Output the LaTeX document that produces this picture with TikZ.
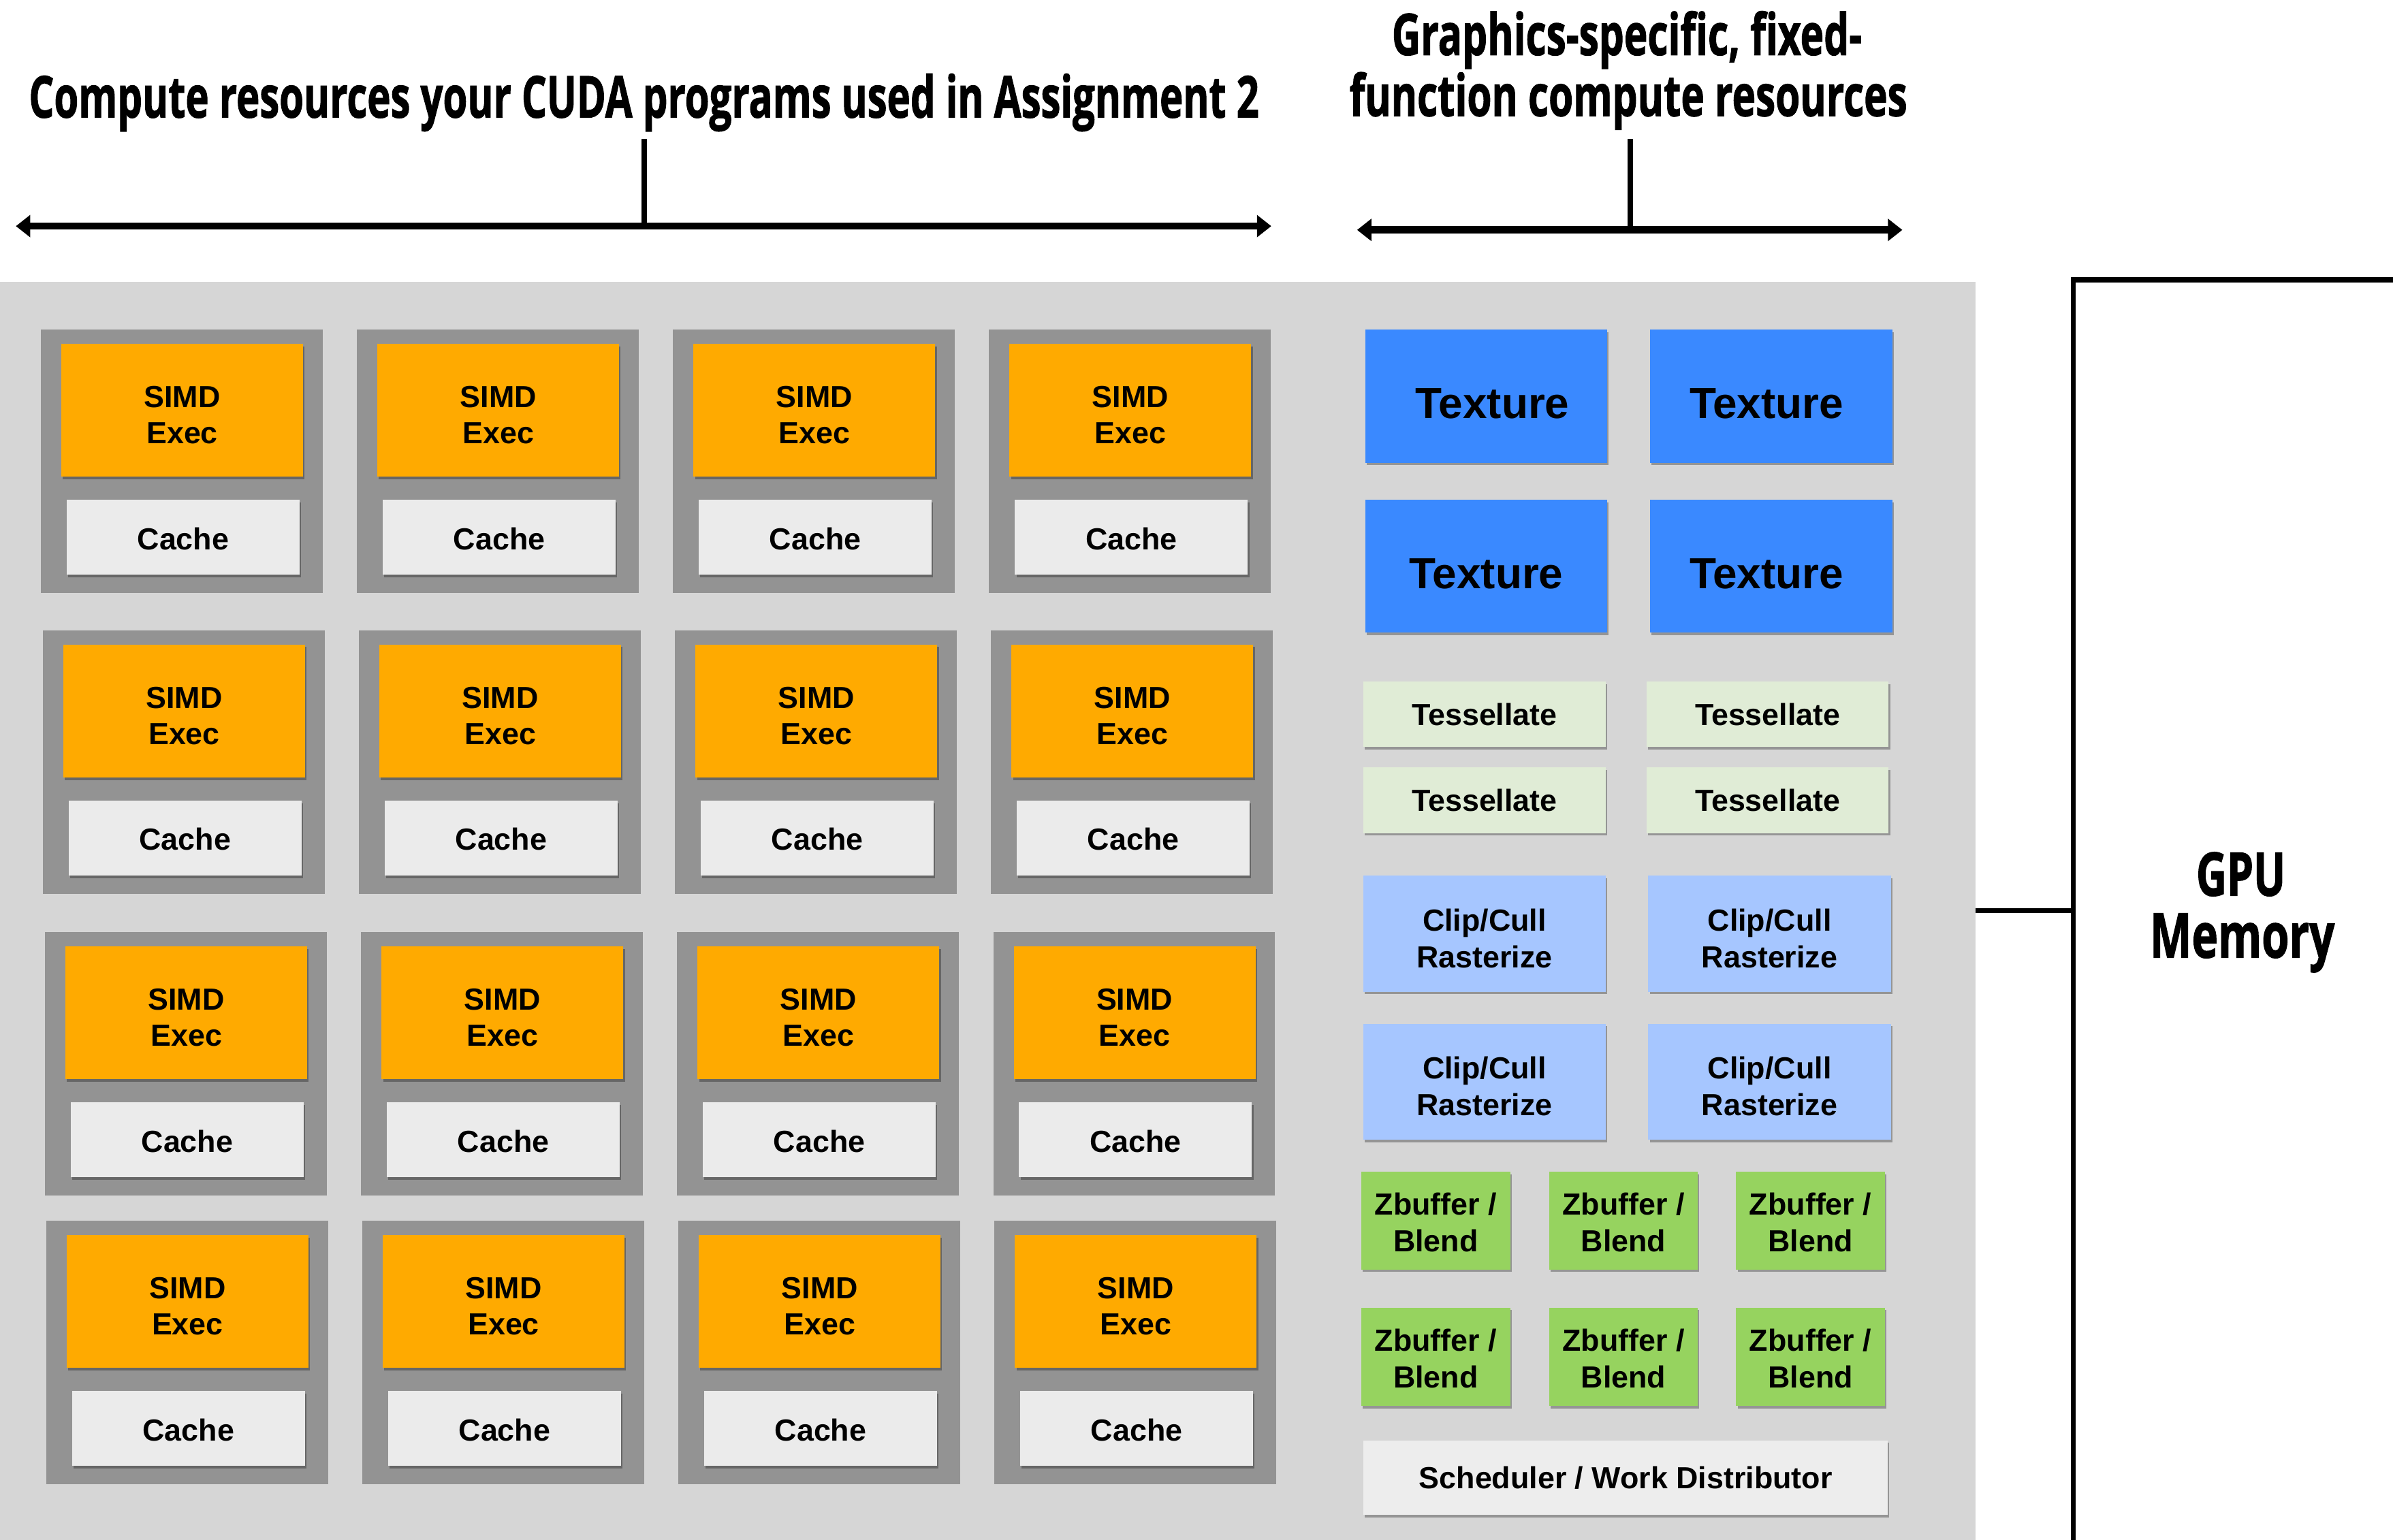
\documentclass[tikz,border=0pt]{standalone}
\usepackage{fontspec}
\usepackage{graphicx}
\setmainfont{Liberation Sans}
\newfontfamily\ttlfont{Open Sans}[BoldFeatures={FakeBold=1.6}]
\usetikzlibrary{arrows.meta,shadows}
\definecolor{panelgray}{HTML}{D6D6D6}
\definecolor{coregray}{HTML}{939393}
\definecolor{simdorange}{HTML}{FFAA00}
\definecolor{cachegray}{HTML}{EBEBEB}
\definecolor{texblue}{HTML}{3A89FF}
\definecolor{tessgreen}{HTML}{E0ECD6}
\definecolor{clipblue}{HTML}{A6C6FF}
\definecolor{zbgreen}{HTML}{96D35F}
\definecolor{schedgray}{HTML}{EDEDED}
\newcommand{\upstrut}[1]{\rule{0pt}{#1}}
\tikzset{
  blk/.style={inner sep=0pt, outer sep=0pt, draw=none, align=center,
    font=\bfseries\fontsize{20}{24}\selectfont},
  lower/.style={execute at begin node={\rule{0pt}{#1}}},
  shd/.style={drop shadow={shadow xshift=1pt, shadow yshift=-1.6pt, opacity=0.3, fill=black}},
  panelbox/.style={blk, fill=panelgray},
  corebox/.style={blk, fill=coregray},
  simdbox/.style={blk, shd, fill=simdorange},
  cachebox/.style={blk, shd, fill=cachegray, lower=16pt},
  texbox/.style={blk, shd, fill=texblue, font=\bfseries\fontsize{28.5}{34}\selectfont, lower=29.4pt},
  tessbox/.style={blk, shd, fill=tessgreen},
  clipbox/.style={blk, shd, fill=clipblue},
  zbbox/.style={blk, shd, fill=zbgreen},
  schedbox/.style={blk, shd, fill=schedgray},
  membox/.style={inner sep=0pt, outer sep=0pt, draw=black, line width=3.4pt, fill=white},
  bigtext/.style={inner sep=0pt, outer sep=0pt, anchor=base},
  spanarrow/.style={line width=4.7pt,
    {Triangle[length=9.4pt,width=14.1pt]}-{Triangle[length=9.4pt,width=14.1pt]}},
  tickline/.style={line width=3.5pt},
  busline/.style={line width=3pt}
}
\newcommand{\placebox}[7]{%
  \pgfmathsetmacro{\pbw}{(#4)-(#2)}%
  \pgfmathsetmacro{\pbh}{(#5)-(#3)}%
  \node[#6, minimum width=\pbw pt, minimum height=\pbh pt] (#1) at ({((#2)+(#4))/2},{((#3)+(#5))/2}) {#7};%
}
\begin{document}
\begin{tikzpicture}[x=1pt,y=-1pt]
\useasboundingbox[fill=white] (0,0) rectangle (1568,1009.3);
% titles
\node[bigtext] (title1) at (422,77) {\resizebox{806pt}{28.7pt}{\ttlfont\bfseries Compute resources your CUDA programs used in Assignment 2}};
\node[bigtext] (title2a) at (1066,36) {\resizebox{308pt}{28.7pt}{\ttlfont\bfseries Graphics-specific, fixed-}};
\node[bigtext] (title2b) at (1067,76) {\resizebox{365.5pt}{28.7pt}{\ttlfont\bfseries function compute resources}};
% span arrows
\coordinate (a1l) at (10.4,148.2);
\coordinate (a1r) at (833,148.2);
\coordinate (a1t) at (422,91);
\coordinate (a1m) at (422,148.2);
\coordinate (a2l) at (889.2,150.7);
\coordinate (a2r) at (1246.5,150.7);
\coordinate (a2t) at (1068.3,91);
\coordinate (a2m) at (1068.3,150.7);
\draw[tickline] (a1t) -- (a1m);
\draw[tickline] (a2t) -- (a2m);
\draw[spanarrow] (a1l) -- (a1r);
\draw[spanarrow] (a2l) -- (a2r);
% chip panel
\placebox{panel}{-4}{184.6}{1294.4}{1040}{panelbox}{}
% GPU memory
\placebox{mem}{1358.4}{183.5}{1640}{1060}{membox}{}
\node[bigtext] (memA) at (1468.3,587) {\resizebox{58.6pt}{28.5pt}{\ttlfont\bfseries GPU}};
\node[bigtext] (memB) at (1469.2,627.6) {\resizebox{121pt}{29pt}{\ttlfont\bfseries Memory}};
\coordinate (busy) at (1320,596.8);
\draw[busline] (panel.east |- busy) -- (mem.west |- busy);
% SIMD cores
\foreach \r/\xo/\yo in {1/26.8/216.0,2/28.1/413.2,3/29.5/610.9,4/30.3/800.1}{
  \foreach \c in {0,1,2,3}{
    \pgfmathsetmacro{\gx}{\xo+207.1*\c}
    \placebox{core\r\c}{\gx}{\yo}{\gx+184.7}{\yo+172.6}{corebox}{}
    \placebox{simd\r\c}{\gx+13.4}{\yo+9.3}{\gx+171.8}{\yo+96.4}{simdbox}{\upstrut{20.3pt}SIMD\\Exec}
    \placebox{cache\r\c}{\gx+16.9}{\yo+111.6}{\gx+169.5}{\yo+160.8}{cachebox}{Cache}
  }
}
% texture units
\placebox{tex1}{894.7}{216}{1053}{303.3}{texbox}{\hspace*{8pt}Texture}
\placebox{tex2}{1081}{216}{1240}{303.3}{texbox}{Texture\hspace*{6pt}}
\placebox{tex3}{894.7}{327.6}{1053}{414.7}{texbox}{Texture}
\placebox{tex4}{1081}{327.6}{1240}{414.7}{texbox}{Texture\hspace*{6pt}}
% tessellators
\placebox{tess1}{893.4}{446.7}{1052}{489.5}{tessbox}{Tessellate}
\placebox{tess2}{1079}{446.7}{1237.5}{489.5}{tessbox}{Tessellate}
\placebox{tess3}{893.4}{503}{1052}{546}{tessbox}{Tessellate}
\placebox{tess4}{1079}{503}{1237.5}{546}{tessbox}{Tessellate}
% clip/cull/raster
\placebox{clip1}{893.4}{574}{1052}{650}{clipbox}{\upstrut{20.6pt}Clip/Cull\\Rasterize}
\placebox{clip2}{1080}{574}{1239}{650}{clipbox}{\upstrut{20.6pt}Clip/Cull\\Rasterize}
\placebox{clip3}{893.4}{671}{1052}{747}{clipbox}{\upstrut{20.6pt}Clip/Cull\\Rasterize}
\placebox{clip4}{1080}{671}{1239}{747}{clipbox}{\upstrut{20.6pt}Clip/Cull\\Rasterize}
% zbuffer/blend
\foreach \k/\xa/\xb in {1/892/989.6,2/1015/1112.5,3/1137.6/1235}{
  \placebox{zbA\k}{\xa}{768}{\xb}{832}{zbbox}{\upstrut{16.5pt}Zbuffer /\\Blend}
  \placebox{zbB\k}{\xa}{857}{\xb}{921.6}{zbbox}{\upstrut{16.5pt}Zbuffer /\\Blend}
}
% scheduler
\placebox{sched}{893.4}{944}{1237}{993}{schedbox}{Scheduler / Work Distributor}
\end{tikzpicture}
\end{document}
